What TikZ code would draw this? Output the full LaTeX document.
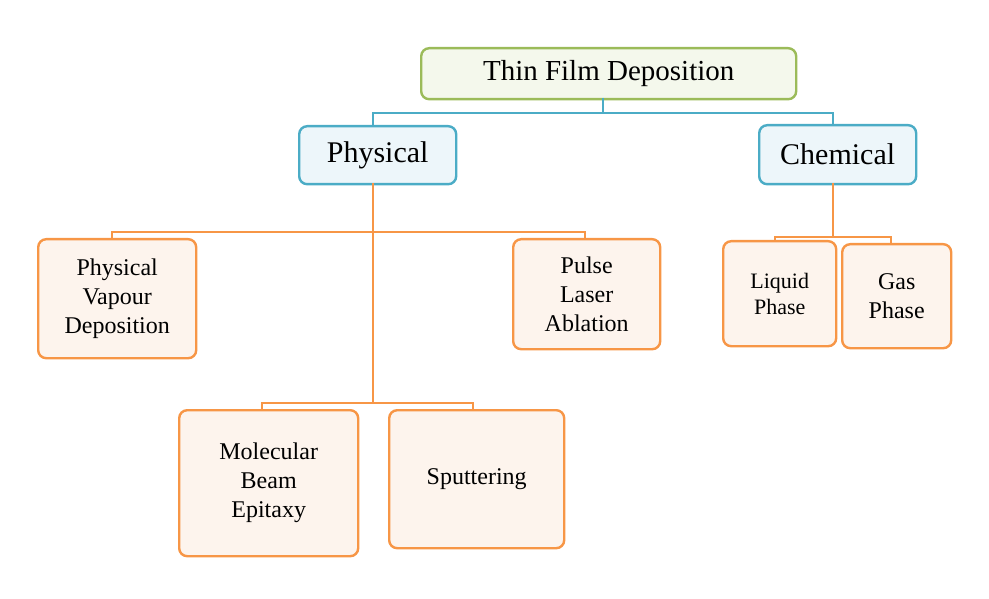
\documentclass[tikz,border=0pt]{standalone}
\usepackage{fontspec}
\setmainfont{Liberation Serif}
\begin{document}
\begin{tikzpicture}[x=1pt,y=-1pt,
 box/.style={draw,rounded corners=8pt,line width=2.4pt,align=center,inner sep=0pt,anchor=north west},
 grn/.style={box,draw={rgb,255:red,155;green,187;blue,89},fill={rgb,255:red,244;green,248;blue,236}},
 blu/.style={box,draw={rgb,255:red,75;green,172;blue,198},fill={rgb,255:red,237;green,246;blue,250}},
 org/.style={box,draw={rgb,255:red,247;green,150;blue,70},fill={rgb,255:red,253;green,244;blue,237}},
 bl/.style={draw={rgb,255:red,75;green,172;blue,198},line width=2pt},
 ol/.style={draw={rgb,255:red,247;green,150;blue,70},line width=2pt}]
\useasboundingbox (0,0) rectangle (989,599);
\node[grn,minimum width=375pt,minimum height=51pt,font=\fontsize{29}{30}\selectfont] (t) at (420,47) {Thin Film Deposition};
\node[blu,minimum width=157pt,minimum height=58pt,font=\fontsize{30}{30}\selectfont] (p) at (298,125) {Physical};
\node[blu,minimum width=157pt,minimum height=59pt,font=\fontsize{30}{30}\selectfont] (c) at (758,124) {Chemical};
\begin{scope}[every node/.append style={font=\fontsize{24}{29}\selectfont}]
\node[org,minimum width=158pt,minimum height=119pt] (pvd) at (37,238) {Physical\\Vapour\\Deposition};
\node[org,minimum width=147pt,minimum height=110pt] (pla) at (512,238) {Pulse\\Laser\\Ablation};
\node[org,minimum width=113pt,minimum height=105pt,font=\fontsize{22}{26}\selectfont] (lp) at (722,240) {Liquid\\Phase};
\node[org,minimum width=109pt,minimum height=104pt] (gp) at (841,243) {Gas\\Phase};
\node[org,minimum width=179pt,minimum height=146pt] (mbe) at (178,409) {Molecular\\Beam\\Epitaxy};
\node[org,minimum width=175pt,minimum height=138pt] (sp) at (388,409) {Sputtering};
\end{scope}
\coordinate (j1) at (603,113);
\draw[bl] (603,98) -- (j1);
\draw[bl] (373,125) |- (j1) -| (833,124);
\coordinate (j3) at (373,403);
\draw[ol] (373,183) -- (j3);
\draw[ol] (112,238) |- (373,232) -| (585,238);
\draw[ol] (262,409) |- (j3) -| (473,409);
\coordinate (j4) at (833,237);
\draw[ol] (833,183) -- (j4);
\draw[ol] (775,240) |- (j4) -| (891,243);
\end{tikzpicture}
\end{document}
